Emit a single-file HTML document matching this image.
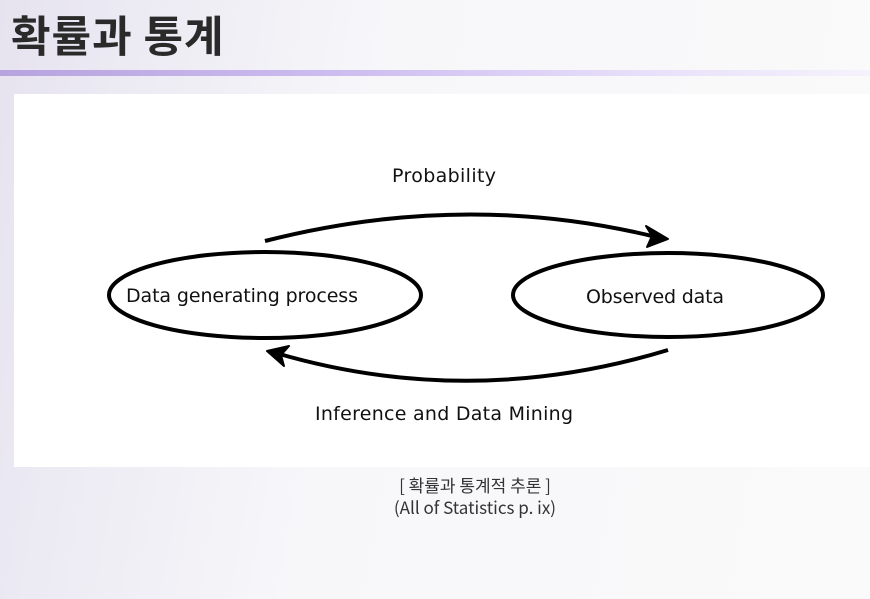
<!DOCTYPE html>
<html><head><meta charset="utf-8"><style>
html,body{margin:0;padding:0;}
body{width:870px;height:599px;overflow:hidden;position:relative;background:linear-gradient(100deg,#e6e3ef 0%,#f7f7fa 40%,#fafafa 100%);font-family:"Liberation Sans","Noto Sans CJK KR",sans-serif;}
.title{position:absolute;left:11px;top:6px;font-size:43px;font-weight:bold;color:#2a2a2a;letter-spacing:1px;font-family:"Noto Sans CJK KR","NanumGothic",sans-serif;line-height:56px;}
.bar{position:absolute;left:0;top:70px;width:870px;height:6px;background:linear-gradient(90deg,#b7a3de 0%,#cdbdf0 40%,#e8e0fa 75%,#f5f2fc 100%);}
.panel{position:absolute;left:14px;top:94px;width:856px;height:373px;background:#fff;}
.cap{position:absolute;left:390px;width:170px;text-align:center;color:#333;font-size:17px;font-family:"Liberation Sans Narrow","Noto Sans CJK KR",sans-serif;}
svg text{font-family:"DejaVu Sans","Liberation Sans",sans-serif;font-size:19px;fill:#111;}
</style></head><body>
<div class="title">확률과 통계</div>
<div class="bar"></div>
<div class="panel"></div>
<svg style="position:absolute;left:0;top:0" width="870" height="599">
<ellipse cx="265" cy="295" rx="156" ry="43" fill="none" stroke="#000" stroke-width="4"/>
<ellipse cx="668" cy="295" rx="155" ry="42" fill="none" stroke="#000" stroke-width="4"/>
<path d="M265 241 Q465 190 656 237" fill="none" stroke="#000" stroke-width="4"/>
<path d="M668 239 L646 226 L652 236 L647 247 Z" fill="#000" stroke="#000" stroke-width="2" stroke-linejoin="round"/>
<path d="M668 350 Q470 410 276 353" fill="none" stroke="#000" stroke-width="4"/>
<path d="M267 351 L289 346 L281 355 L284 366 Z" fill="#000" stroke="#000" stroke-width="2" stroke-linejoin="round"/>
<text x="444" y="182" text-anchor="middle" textLength="104">Probability</text>
<text x="242" y="302" text-anchor="middle" textLength="232">Data generating process</text>
<text x="655" y="303" text-anchor="middle" textLength="138">Observed data</text>
<text x="444" y="420" text-anchor="middle" textLength="258">Inference and Data Mining</text>
</svg>
<div class="cap" style="top:472px">[ 확률과 통계적 추론 ]</div>
<div class="cap" style="top:494px">(All of Statistics p. ix)</div>
</body></html>
